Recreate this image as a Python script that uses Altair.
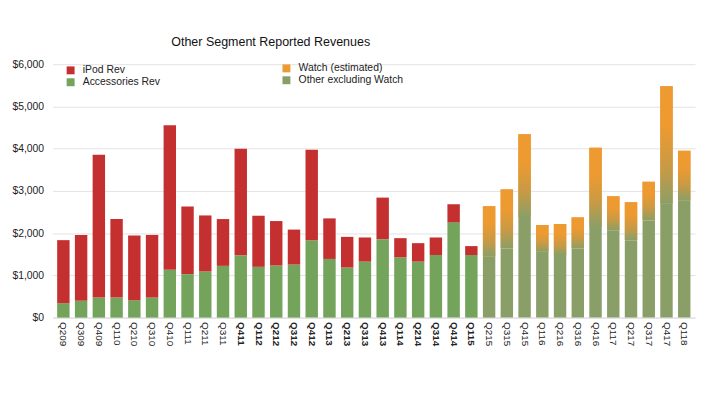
import altair as alt
import pandas as pd

quarters = ["Q209","Q309","Q409","Q110","Q210","Q310","Q410","Q111","Q211","Q311",
            "Q411","Q112","Q212","Q312","Q412","Q113","Q213","Q313","Q413","Q114",
            "Q214","Q314","Q414","Q115","Q215","Q315","Q415","Q116","Q216","Q316",
            "Q416","Q117","Q217","Q317","Q417","Q118"]

# iPod era (Q209 - Q115)
ipod_quarters = quarters[:24]
accessories_rev = [342, 398, 475, 475, 412, 475, 1131, 1030, 1092, 1225,
                   1475, 1202, 1233, 1256, 1834, 1389, 1186, 1326, 1857, 1428,
                   1326, 1482, 2255, 1482]
ipod_rev = [1492, 1560, 3380, 1858, 1532, 1483, 3426, 1600, 1327, 1108,
            2521, 1210, 1053, 828, 2139, 960, 726, 571, 984, 453,
            437, 415, 429, 211]

# Watch era (Q215 - Q118)
watch_quarters = quarters[24:]
other_ex_watch = [1443, 1639, 2380, 1560, 1482, 1639, 2146, 2068, 1834, 2302, 2693, 2770]
watch_est = [1194, 1396, 1960, 632, 733, 733, 1874, 804, 897, 914, 2787, 1180]

bold_quarters = ["Q411","Q112","Q212","Q312","Q412","Q113","Q213","Q313","Q413",
                 "Q114","Q214","Q314","Q414","Q115"]

series_a = ["iPod Rev", "Accessories Rev"]
colors_a = ["#c4302f", "#74a35c"]
series_b = ["Watch (estimated)", "Other excluding Watch"]
colors_b = ["#ec9a31", "#8a9f67"]

rows_a = []
for q, acc, ip in zip(ipod_quarters, accessories_rev, ipod_rev):
    rows_a.append({"quarter": q, "series": "Accessories Rev", "value": acc, "ord": 0})
    rows_a.append({"quarter": q, "series": "iPod Rev", "value": ip, "ord": 1})
df_a = pd.DataFrame(rows_a)

rows_b = []
for q, oth, w in zip(watch_quarters, other_ex_watch, watch_est):
    rows_b.append({"quarter": q, "series": "Other excluding Watch", "value": oth, "ord": 0})
    rows_b.append({"quarter": q, "series": "Watch (estimated)", "value": w, "ord": 1})
df_b = pd.DataFrame(rows_b)

df_c = pd.DataFrame({"quarter": watch_quarters, "low": other_ex_watch,
                     "high": [o + w for o, w in zip(other_ex_watch, watch_est)]})

test_expr = "indexof([" + ",".join("'" + q + "'" for q in bold_quarters) + "], datum.value) >= 0"

FONT = "Liberation Sans"

x_enc = alt.X("quarter:N", sort=quarters,
              scale=alt.Scale(domain=quarters, paddingInner=0.3, paddingOuter=0.26),
              axis=alt.Axis(title=None, labelAngle=90, labelAlign="left", labelBaseline="middle",
                            labelPadding=4, ticks=False, domain=True, domainColor="#dddddd",
                            labelFontSize=10, labelColor="#222222", labelFont=FONT,
                            labelFontWeight={"condition": {"test": test_expr, "value": "bold"},
                                             "value": "normal"}))
y_axis = alt.Axis(title=None, format="$,.0f", values=[0, 1000, 2000, 3000, 4000, 5000, 6000],
                  ticks=False, domain=False, labelPadding=9, labelFontSize=10.5,
                  labelColor="#222222", labelFont=FONT,
                  gridColor="#e3e3e3")

legend_common = dict(title=None, orient="none", symbolType="square", symbolSize=64,
                     symbolStrokeWidth=0, labelFontSize=10.5, labelFont=FONT,
                     labelColor="#222222", labelOffset=7, rowPadding=1)

layer_a = alt.Chart(df_a).mark_bar().encode(
    x=x_enc,
    y=alt.Y("sum(value):Q", stack="zero", scale=alt.Scale(domain=[0, 6000], nice=False), axis=y_axis),
    color=alt.Color("series:N", scale=alt.Scale(domain=series_a, range=colors_a),
                    legend=alt.Legend(legendX=13, legendY=1, **legend_common)),
    order=alt.Order("ord:Q"),
)

layer_b = alt.Chart(df_b).mark_bar().encode(
    x=x_enc,
    y=alt.Y("sum(value):Q", stack="zero"),
    color=alt.Color("series:N", scale=alt.Scale(domain=series_b, range=colors_b),
                    legend=alt.Legend(legendX=231, legendY=-1, **legend_common)),
    order=alt.Order("ord:Q"),
)

grad = alt.Gradient(gradient="linear",
                    stops=[alt.GradientStop(color="#8a9f67", offset=0),
                           alt.GradientStop(color="#c79a45", offset=0.3),
                           alt.GradientStop(color="#ec9a31", offset=0.65),
                           alt.GradientStop(color="#ee9a30", offset=1)],
                    x1=0, x2=0, y1=1, y2=0)

layer_c = alt.Chart(df_c).mark_bar(fill=grad).encode(
    x=x_enc,
    y=alt.Y("low:Q"),
    y2=alt.Y2("high:Q"),
)

chart = alt.layer(layer_a, layer_b, layer_c).resolve_scale(color="independent").properties(
    width=649, height=256,
    title=alt.TitleParams("Other Segment Reported Revenues", anchor="start", dx=161,
                          fontSize=12.6, fontWeight="normal", font=FONT,
                          color="#111111", offset=11),
    padding={"left": 3, "top": 26, "right": 5, "bottom": 5},
).configure_view(stroke=None)

chart.save("out.html", embed_options={"renderer": "svg", "actions": False})
